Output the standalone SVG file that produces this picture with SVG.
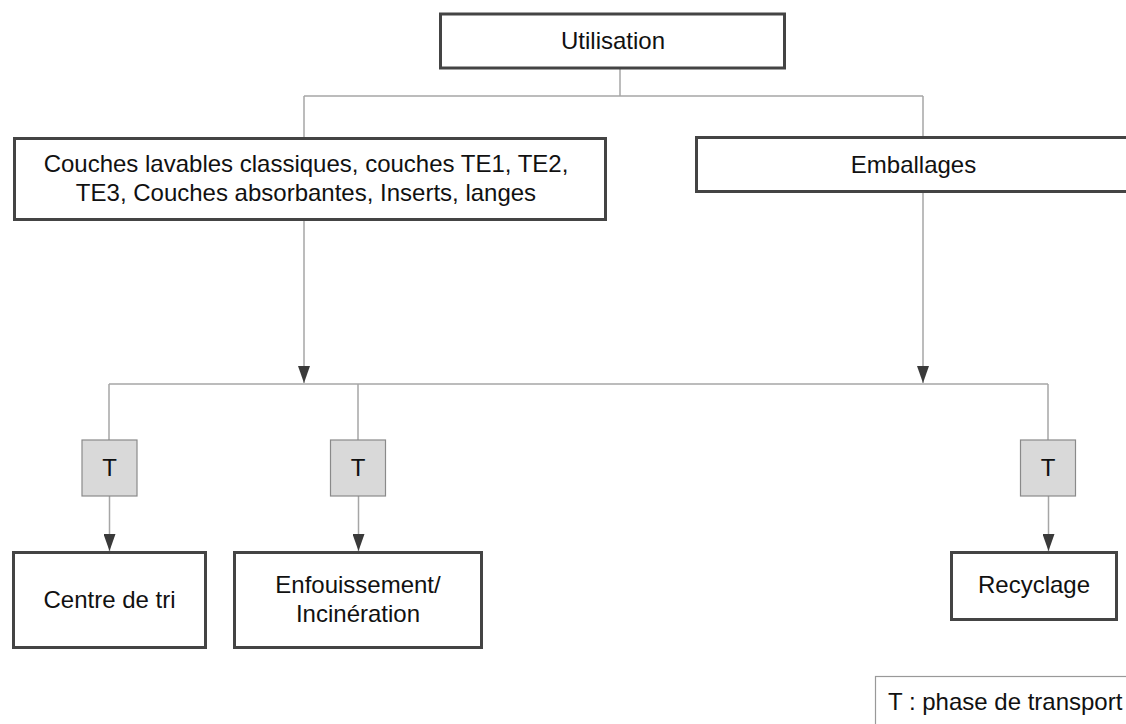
<svg xmlns="http://www.w3.org/2000/svg" width="1126" height="724" viewBox="0 0 1126 724">
<style>
  .box { fill: #ffffff; stroke: #444444; stroke-width: 3; }
  .tbox { fill: #d9d9d9; stroke: #8a8a8a; stroke-width: 1.2; }
  .legend { fill: #ffffff; stroke: #999999; stroke-width: 1.2; }
  .lbl { font-family: "Liberation Sans", Arial, sans-serif; font-size: 24px; fill: #111111; text-anchor: middle; }
  .conn { fill: none; stroke: #a6a6a6; stroke-width: 1.5; }
</style>
<defs>
  <marker id="arr" markerUnits="userSpaceOnUse" markerWidth="17" markerHeight="12" refX="17" refY="6" orient="auto" viewBox="0 0 17 12">
    <path d="M0,0 L17,6 L0,12 Z" fill="#3a3a3a"/>
  </marker>
</defs>
<rect width="1126" height="724" fill="#ffffff"/>

<g id="connectors">
  <path class="conn" d="M620,69 V96"/>
  <path class="conn" d="M304,96 H923"/>
  <path class="conn" d="M304,96 V137"/>
  <path class="conn" d="M923,96 V136"/>
  <path class="conn" d="M304,221 V383" marker-end="url(#arr)"/>
  <path class="conn" d="M923,193 V383" marker-end="url(#arr)"/>
  <path class="conn" d="M109,384 H1048"/>
  <path class="conn" d="M109,384 V440"/>
  <path class="conn" d="M358,384 V440"/>
  <path class="conn" d="M1048,384 V440"/>
  <path class="conn" d="M109.5,496 V551" marker-end="url(#arr)"/>
  <path class="conn" d="M358.5,496 V551" marker-end="url(#arr)"/>
  <path class="conn" d="M1048.5,496 V551" marker-end="url(#arr)"/>
</g>

<g id="utilisation">
  <rect class="box" x="440.5" y="14" width="344" height="54"/>
  <text class="lbl" x="613" y="49">Utilisation</text>
</g>

<g id="couches">
  <rect class="box" x="14.5" y="138.5" width="591" height="81"/>
  <text class="lbl" x="306" y="172">Couches lavables classiques, couches TE1, TE2,</text>
  <text class="lbl" x="306" y="201">TE3, Couches absorbantes, Inserts, langes</text>
</g>

<g id="emballages">
  <rect class="box" x="696.5" y="137.5" width="435" height="54"/>
  <text class="lbl" x="913.5" y="173">Emballages</text>
</g>

<g id="t1">
  <rect class="tbox" x="82" y="440" width="55" height="56"/>
  <text class="lbl" x="109.5" y="476">T</text>
</g>
<g id="t2">
  <rect class="tbox" x="330.5" y="440" width="55" height="56"/>
  <text class="lbl" x="358" y="476">T</text>
</g>
<g id="t3">
  <rect class="tbox" x="1020.5" y="440" width="55" height="56"/>
  <text class="lbl" x="1048" y="476">T</text>
</g>

<g id="centre-de-tri">
  <rect class="box" x="13.5" y="552.5" width="192" height="95"/>
  <text class="lbl" x="109.5" y="608">Centre de tri</text>
</g>

<g id="enfouissement">
  <rect class="box" x="234.5" y="552.5" width="247" height="95"/>
  <text class="lbl" x="358" y="593">Enfouissement/</text>
  <text class="lbl" x="358" y="622">Incinération</text>
</g>

<g id="recyclage">
  <rect class="box" x="951.5" y="552.5" width="165" height="67"/>
  <text class="lbl" x="1034" y="593">Recyclage</text>
</g>

<g id="legende">
  <rect class="legend" x="875.5" y="676.5" width="260" height="60"/>
  <text class="lbl" x="888" y="710" style="text-anchor:start">T : phase de transport</text>
</g>
</svg>
